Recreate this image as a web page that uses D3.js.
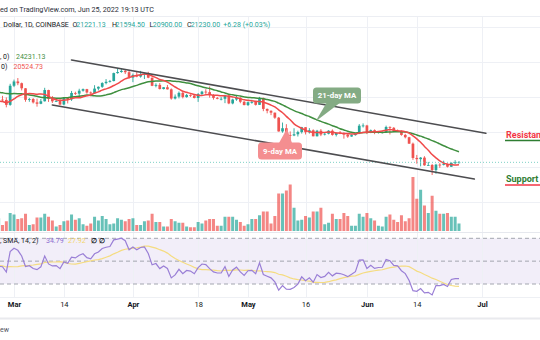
<!DOCTYPE html>
<html><head><meta charset="utf-8">
<script src="https://cdn.jsdelivr.net/npm/d3@7"></script>
<style>html,body{margin:0;padding:0;background:#fff;overflow:hidden}svg{display:block;font-family:Roboto,"Open Sans",sans-serif}</style>
</head><body><svg id="c" width="540" height="340"></svg>
<script>
// ---------- data ----------
const startDate = "2022-02-25";
const opens = [
38330,39220,39120,37710,43190,44420,43920,42460,39150,39400,
38420,38020,38740,41960,39440,38730,38820,37800,39670,39290,
41120,40920,41770,42220,41260,41000,42370,42890,43960,44330,
44540,46820,47130,47460,47070,45530,46290,45820,46410,46580,
45500,43170,43440,42250,42760,42160,39530,40070,41150,39940,
40550,40380,39680,40800,41500,41370,40480,39710,39450,39450,
40430,38120,39240,39740,38600,37650,38470,38530,37720,39700,
36550,36010,35470,34040,30090,31010,29080,28930,29280,29900,
31300,29860,30420,28700,30300,29200,29430,30300,29100,29650,
29540,29200,28630,29030,29470,31730,31800,29800,30450,29700,
29860,29910,31370,31130,30200,30110,29090,28420,26580,22490,
22140,22580,20380,20470,19010,20570,20560,20730,19970,21090,
21221.13];
const highs = [
39700,40300,39850,43750,44950,45400,44100,42520,39700,39650,
39500,39400,42600,42040,40250,39350,39300,39930,39880,41700,
41480,42330,42400,42300,41550,43350,43000,44200,45100,44850,
46950,48200,48190,47700,47600,46700,47200,47450,46880,47200,
45500,43900,43960,42800,43420,42420,40690,41550,41500,40860,
40700,40600,41100,41740,42200,42980,40800,39970,39930,40600,
40800,39470,40370,39920,38790,38680,39160,38650,40000,39800,
36660,36130,35500,34240,32640,32170,30100,31000,30300,31400,
31300,31040,30690,30540,30760,29620,30450,30670,29830,30200,
29860,29360,29250,29560,32200,32400,31980,30640,30680,29950,
30150,31750,31560,31340,30650,30390,29400,28550,26900,23350,
22750,22990,21350,20780,20810,21000,21700,20870,21200,21850,
21594.5];
const lows = [
38000,38600,37000,37450,42800,43350,41850,38600,38600,38100,
37200,37900,38670,38550,38250,38660,37600,37580,38120,38850,
40520,40130,41500,40920,40500,40900,41850,42600,43600,44100,
44450,46650,46930,46550,45200,44220,45630,45520,45120,45360,
43070,42730,42120,42130,42120,39200,39250,39560,39560,39770,
39990,39550,38560,40570,40840,39780,39210,39300,39000,38200,
37900,37870,38880,38180,37580,37400,38050,37510,37690,35900,
35280,34760,33710,30040,29730,27800,26700,28740,28640,29480,
29220,29480,28690,28660,28750,28940,29250,28880,28650,29320,
28020,28260,28560,28880,29320,31220,29320,29600,29300,29480,
29500,29880,29220,29850,29970,28860,28100,26560,21930,20840,
20080,20250,20260,17600,17960,19650,20350,19770,19890,20750,
20900];
const closes = [
39220,39120,37710,43190,44420,43920,42460,39150,39400,38420,
38020,38740,41960,39440,38730,38820,37800,39670,39290,41120,
40920,41770,42220,41260,41000,42370,42890,43960,44330,44540,
46820,47130,47460,47070,45530,46290,45820,46410,46580,45500,
43170,43440,42250,42760,42160,39530,40070,41150,39940,40550,
40380,39680,40800,41500,41370,40480,39710,39450,39450,40430,
38120,39240,39740,38600,37650,38470,38530,37720,39700,36550,
36010,35470,34040,30090,31010,29080,28930,29280,29900,31300,
29860,30420,28700,30300,29200,29430,30300,29100,29650,29540,
29200,28630,29030,29470,31730,31800,29800,30450,29700,29860,
29910,31370,31130,30200,30110,29090,28420,26580,22490,22140,
22580,20380,20470,19010,20570,20560,20730,19970,21090,21221.13,
21230];
// volume, thousand BTC
const volumes = [
17,8,13,24,22,16,17,23,8,9,
18,18,23,19,14,6,8,13,14,22,
15,17,9,7,10,19,14,20,16,9,
10,17,15,13,16,17,8,8,13,14,
23,12,12,6,6,16,13,11,11,6,
5,5,12,10,14,16,16,7,7,19,
19,19,15,12,7,9,16,16,21,26,
26,10,20,50,50,54,62,31,14,15,
20,18,26,26,31,9,11,23,16,16,
24,20,7,7,23,19,24,17,14,7,
6,19,22,15,12,21,13,17,72,43,
55,34,24,47,27,23,23,24,19,19,
10];
// closes Jan 1 - Feb 24 2022 (off-screen history for the indicators)
const priorCloses = [
47690,47290,46440,45830,43450,43080,41560,41730,41860,41820,
42740,43920,42590,43080,43100,43180,42250,42370,41680,40690,
36470,35080,36280,36670,36960,36830,37160,37720,38170,37920,
38480,38740,36950,37150,41570,41380,42410,43840,44120,44340,
43560,42410,42240,42200,42590,44580,43960,40540,40000,40120,
38430,37070,38290,37300,38330];
const tickDates = ["2022-03-01","2022-03-14","2022-04-01","2022-04-18","2022-05-01","2022-05-16","2022-06-01","2022-06-14","2022-07-01"];
const tickLabels = ["Mar","14","Apr","18","May","16","Jun","14","Jul"];
const tickBold = [true,false,true,false,true,false,true,false,true];
const priceGrid = [10000,20000,30000,40000,50000,60000];
const rsiLevels = [70,50,30];
const upperChannel = [["2022-03-16",50573],["2022-07-02",29558]];
const lowerChannel = [["2022-03-11",37672],["2022-06-29",16456]];
const lastPrice = 21230;
const fastLen = 9, slowLen = 21, rsiLen = 14, rsiMaLen = 14;
const headerText = "ed on TradingView.com, Jun 25, 2022 19:13 UTC";
const ohlcLegend = [["Dollar, 1D, COINBASE",3.3,"#131722"],["O",72.5,"#131722"],["21221.13",76.3,"#26a69a"],["H",112,"#131722"],["21594.50",115.6,"#26a69a"],["L",149.5,"#131722"],["20900.00",152.8,"#26a69a"],["C",187,"#131722"],["21230.00",190.7,"#26a69a"],["+6.28 (+0.03%)",223.3,"#26a69a"]];
const maLegend = [[", 0)",0,58.5,"#131722"],["24231.13",16,58.5,"#3f8f3f"],["0)",1,68.5,"#131722"],["20524.73",13.5,68.5,"#ef5350"]];
const rsiLegend = [[", SMA, 14, 2)",0,"#131722"],["34.79",46,"#8e6fd0"],["27.92",68,"#f2d66b"],["\u2205",90.5,"#131722"],["\u2205",99,"#131722"]];

// ---------- scales ----------
const svg = d3.select("#c");
const parse = d3.utcParse("%Y-%m-%d");
const t0 = parse(startDate);
const dates = closes.map((_, i) => d3.utcDay.offset(t0, i));
const x = d3.scaleUtc().domain([parse("2022-03-01"), parse("2022-07-01")]).range([14, 482]);
const y = d3.scaleLinear().domain([17600, 50000]).range([175, 62]);
const yv = d3.scaleLinear().domain([0, 72]).range([231, 177]);
const yr = d3.scaleLinear().domain([70, 30]).range([238.3, 284]);
const up = "#26a69a", dn = "#ef5350";
const isUp = i => closes[i] >= opens[i];

// ---------- indicators from closes ----------
const all = priorCloses.concat(closes);
const P = priorCloses.length;
function sma(arr, n) { return arr.map((_, i) => { if (i < n - 1 || arr[i] == null) return null; let s = 0; for (let k = i - n + 1; k <= i; k++) { if (arr[k] == null) return null; s += arr[k]; } return s / n; }); }
const maFast = sma(all, fastLen).slice(P);
const maSlow = sma(all, slowLen).slice(P);
const rsiAll = new Array(all.length).fill(null);
let ag = 0, al = 0;
for (let i = 1; i < all.length; i++) {
  const ch = all[i] - all[i - 1], g = Math.max(ch, 0), l = Math.max(-ch, 0);
  if (i <= rsiLen) { ag += g / rsiLen; al += l / rsiLen; if (i === rsiLen) rsiAll[i] = 100 - 100 / (1 + ag / al); }
  else { ag = (ag * (rsiLen - 1) + g) / rsiLen; al = (al * (rsiLen - 1) + l) / rsiLen; rsiAll[i] = al === 0 ? 100 : 100 - 100 / (1 + ag / al); }
}
const rsiMaAll = sma(rsiAll, rsiMaLen);
const rsi = rsiAll.slice(P), rsiMa = rsiMaAll.slice(P);

// ---------- frame / grid ----------
svg.append("rect").attr("width", 540).attr("height", 340).attr("fill", "#fff");
// RSI band
svg.append("rect").attr("x", 0).attr("width", 540).attr("y", yr(70)).attr("height", yr(30) - yr(70)).attr("fill", "#7e57c2").attr("fill-opacity", 0.1);
const grid = svg.append("g").attr("stroke", "#eef0f5").attr("stroke-width", 1);
grid.selectAll(".v").data(tickDates).join("line")
  .attr("x1", d => Math.round(x(parse(d))) + 0.5).attr("x2", d => Math.round(x(parse(d))) + 0.5)
  .attr("y1", 16).attr("y2", 297);
grid.selectAll(".h").data(priceGrid).join("line")
  .attr("x1", 0).attr("x2", 540).attr("y1", d => Math.round(y(d)) + 0.5).attr("y2", d => Math.round(y(d)) + 0.5);
svg.append("line").attr("x1", 0).attr("x2", 540).attr("y1", 16.5).attr("y2", 16.5).attr("stroke", "#eceef3");
svg.append("line").attr("x1", 0).attr("x2", 540).attr("y1", 232.5).attr("y2", 232.5).attr("stroke", "#e6e8ee");
svg.append("line").attr("x1", 0).attr("x2", 540).attr("y1", 297.5).attr("y2", 297.5).attr("stroke", "#eef0f4");
svg.append("rect").attr("x", 0).attr("y", 317.5).attr("width", 540).attr("height", 2).attr("fill", "#e9eaee");
svg.append("g").selectAll("line").data(rsiLevels).join("line")
  .attr("x1", 0).attr("x2", 540).attr("y1", d => yr(d)).attr("y2", d => yr(d))
  .attr("stroke", "#a3a6af").attr("stroke-width", 1).attr("stroke-dasharray", "4,3");

// ---------- volume ----------
svg.append("g").selectAll("rect").data(volumes).join("rect")
  .attr("x", (d, i) => x(dates[i]) - 1.5).attr("width", 3)
  .attr("y", d => yv(d)).attr("height", d => yv(0) - yv(d))
  .attr("fill", (d, i) => isUp(i) ? up : dn).attr("fill-opacity", 0.7);

// ---------- candles ----------
const cg = svg.append("g");
cg.selectAll("line").data(closes).join("line")
  .attr("x1", (d, i) => x(dates[i])).attr("x2", (d, i) => x(dates[i]))
  .attr("y1", (d, i) => y(highs[i])).attr("y2", (d, i) => y(lows[i]))
  .attr("stroke", (d, i) => isUp(i) ? up : dn).attr("stroke-width", 0.9);
cg.selectAll("rect").data(closes).join("rect")
  .attr("x", (d, i) => x(dates[i]) - 1.35).attr("width", 2.7)
  .attr("y", (d, i) => y(Math.max(opens[i], closes[i])))
  .attr("height", (d, i) => Math.max(0.8, Math.abs(y(opens[i]) - y(closes[i]))))
  .attr("fill", (d, i) => isUp(i) ? up : dn);

// ---------- moving averages ----------
const maLine = d3.line().defined(d => d[1] != null).x(d => x(d[0])).y(d => y(d[1])).curve(d3.curveMonotoneX);
svg.append("path").attr("d", maLine(dates.map((d, i) => [d, maSlow[i]]))).attr("fill", "none").attr("stroke", "#3f8f3f").attr("stroke-width", 1.5);
svg.append("path").attr("d", maLine(dates.map((d, i) => [d, maFast[i]]))).attr("fill", "none").attr("stroke", "#f04a4a").attr("stroke-width", 1.5);

// last price line
svg.append("line").attr("x1", 0).attr("x2", 540).attr("y1", y(lastPrice)).attr("y2", y(lastPrice))
  .attr("stroke", "#7fd0c6").attr("stroke-width", 1).attr("stroke-dasharray", "1,2");

// ---------- channel lines ----------
[upperChannel, lowerChannel].forEach(c => {
  svg.append("line").attr("x1", x(parse(c[0][0]))).attr("y1", y(c[0][1]))
    .attr("x2", x(parse(c[1][0]))).attr("y2", y(c[1][1]))
    .attr("stroke", "#4d4d50").attr("stroke-width", 1.6).attr("stroke-linecap", "round");
});

// ---------- RSI ----------
const rl = d3.line().defined(d => d[1] != null).x(d => x(d[0])).y(d => yr(d[1]));
svg.append("path").attr("d", rl(dates.map((d, i) => [d, rsiMa[i]]))).attr("fill", "none").attr("stroke", "#f5dc80").attr("stroke-width", 1.2);
svg.append("path").attr("d", rl(dates.map((d, i) => [d, rsi[i]]))).attr("fill", "none").attr("stroke", "#9a7fd6").attr("stroke-width", 1.2);

// ---------- time axis ----------
const ax = svg.append("g").attr("transform", "translate(0,302)")
  .call(d3.axisBottom(x).tickValues(tickDates.map(parse)).tickFormat((d, i) => tickLabels[i]).tickSize(0).tickPadding(0));
ax.select(".domain").remove();
ax.selectAll("text").attr("font-family", "Roboto, sans-serif").attr("font-size", 7.5).attr("fill", "#131722")
  .attr("dy", "0.71em").attr("font-weight", (d, i) => tickBold[i] ? 700 : 400);

// ---------- callouts ----------
function callout(bx, by, bw, bh, tail, fill, label) {
  const g = svg.append("g");
  g.append("polygon").attr("points", tail.map(p => p.join(",")).join(" ")).attr("fill", fill);
  g.append("rect").attr("x", bx).attr("y", by).attr("width", bw).attr("height", bh).attr("rx", 3.5).attr("fill", fill);
  g.append("text").attr("x", bx + bw / 2).attr("y", by + bh / 2 + 2.8).attr("text-anchor", "middle")
    .attr("fill", "#fff").attr("font-size", 7.8).attr("font-weight", 700).text(label);
}
callout(313, 87.5, 48, 16, [[327, 102], [341, 102], [315.5, 121.5]], "#84ab84", "21-day MA");
callout(258, 142.5, 44, 17, [[279, 143], [292, 143], [287, 128.5]], "#f48e90", "9-day MA");

// ---------- Resistance / Support ----------
svg.append("text").attr("x", 506).attr("y", 137.5).attr("font-size", 9).attr("font-weight", 700).attr("fill", "#f23645").text("Resistance");
svg.append("line").attr("x1", 505).attr("x2", 540).attr("y1", 140.5).attr("y2", 140.5).attr("stroke", "#2e7d32").attr("stroke-width", 1.4);
svg.append("text").attr("x", 506).attr("y", 182).attr("font-size", 9).attr("font-weight", 700).attr("fill", "#2e7d32").text("Support");
svg.append("line").attr("x1", 505).attr("x2", 540).attr("y1", 185).attr("y2", 185).attr("stroke", "#f23645").attr("stroke-width", 1.4);

// ---------- legends / header ----------
svg.append("text").attr("x", 0).attr("y", 11.5).attr("font-size", 7.2).attr("fill", "#2a2e39").text(headerText);
const ol = svg.append("text").attr("y", 26.8).attr("font-size", 7);
ol.selectAll("tspan").data(ohlcLegend).join("tspan").attr("x", d => d[1]).attr("fill", d => d[2]).text(d => d[0]);
svg.append("g").selectAll("text").data(maLegend).join("text")
  .attr("x", d => d[1]).attr("y", d => d[2]).attr("font-size", 7).attr("fill", d => d[3]).text(d => d[0]);
svg.append("g").selectAll("text").data(rsiLegend).join("text")
  .attr("x", d => d[1]).attr("y", 243.3).attr("font-size", 7).attr("fill", d => d[2])
  .attr("font-weight", (d, i) => i >= 3 ? 700 : 400).text(d => d[0]);
svg.append("text").attr("x", 0).attr("y", 331.5).attr("font-size", 7).attr("fill", "#50535e").text("ew");
</script></body></html>
